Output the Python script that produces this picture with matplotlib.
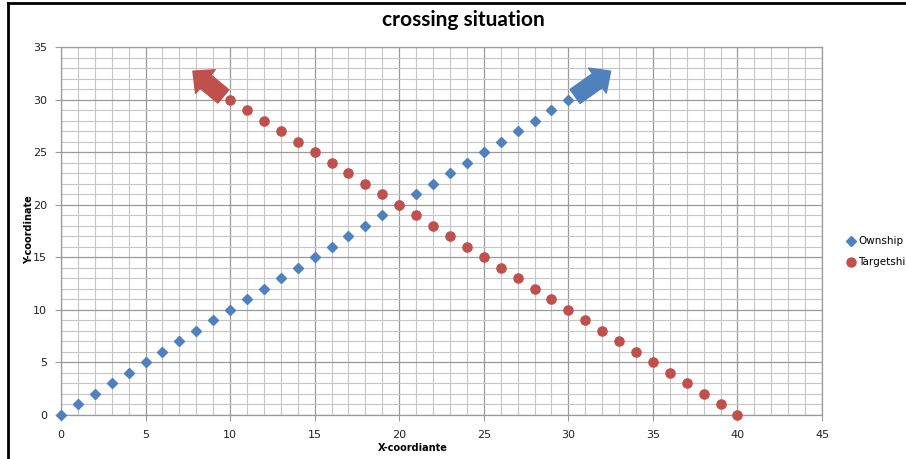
import matplotlib
matplotlib.use("Agg")
import matplotlib.pyplot as plt
from matplotlib.lines import Line2D
from matplotlib.ticker import MultipleLocator

# Data
own_x = list(range(0, 31))
own_y = list(range(0, 31))
tgt_x = list(range(10, 41))
tgt_y = [40 - v for v in range(10, 41)]
series_names = ["Ownship", "Targetship"]
title = "crossing situation"
xlabel = "X-coordiante"
ylabel = "Y-coordinate"
# arrow annotations (tail -> tip) in data units
own_arrow = [(30.4, 30.3), (32.5, 32.7)]
tgt_arrow = [(9.6, 30.3), (7.8, 32.7)]

BLUE = "#4F81BD"
RED = "#C0504D"

fig = plt.figure(figsize=(9.06, 4.59), dpi=100)
ax = fig.add_axes([61/906, 44/459, 761/906, 368/459])

ax.set_xlim(0, 45)
ax.set_ylim(0, 35)
ax.xaxis.set_major_locator(MultipleLocator(5))
ax.yaxis.set_major_locator(MultipleLocator(5))
ax.xaxis.set_minor_locator(MultipleLocator(1))
ax.yaxis.set_minor_locator(MultipleLocator(1))
ax.grid(which="minor", color="#c6c6c6", linewidth=0.8)
ax.grid(which="major", color="#9a9a9a", linewidth=0.9)
ax.set_axisbelow(True)
for s in ax.spines.values():
    s.set_color("#9a9a9a")
    s.set_linewidth(0.9)
ax.tick_params(which="major", direction="out", length=4, color="#9a9a9a",
               labelsize=8, labelcolor="#222222", pad=6)
ax.tick_params(which="minor", length=0)
ax.tick_params(axis="x", pad=7)

ax.plot(own_x, own_y, linestyle="none", marker="D", markersize=5.2,
        color=BLUE, clip_on=False, zorder=3)
ax.plot(tgt_x, tgt_y, linestyle="none", marker="o", markersize=6.6,
        color=RED, clip_on=False, zorder=3)

for (tail, tip), c in [(own_arrow, BLUE), (tgt_arrow, RED)]:
    ax.annotate("", xy=tip, xytext=tail,
                arrowprops=dict(arrowstyle="simple,head_length=0.9,head_width=1.7,tail_width=0.95",
                                color=c, mutation_scale=13, shrinkA=0, shrinkB=0),
                zorder=4)

fig.text(463/906, 1 - 20/459, title, ha="center", va="center",
         fontsize=15, fontweight="bold", family="Lato")
fig.text(413/906, 1 - 448/459, xlabel, ha="center", va="center",
         fontsize=7, fontweight="bold")
fig.text(29/906, 1 - 230/459, ylabel, ha="center", va="center",
         fontsize=7, fontweight="bold", rotation=90)

# legend
fig.add_artist(Line2D([851/906], [1 - 241/459], marker="D", markersize=5,
                      color=BLUE, linestyle="none"))
fig.add_artist(Line2D([851/906], [1 - 262/459], marker="o", markersize=6.5,
                      color=RED, linestyle="none"))
fig.text(858/906, 1 - 241/459, series_names[0], ha="left", va="center", fontsize=7.5)
fig.text(858/906, 1 - 262/459, series_names[1], ha="left", va="center", fontsize=7.5)

# outer frame (top and left)
fig.add_artist(Line2D([8/906, 8/906], [0, 1 - 3/459], color="black", linewidth=2))
fig.add_artist(Line2D([8/906, 1], [1 - 3/459, 1 - 3/459], color="black", linewidth=2))

fig.savefig("out.png", dpi=100)
